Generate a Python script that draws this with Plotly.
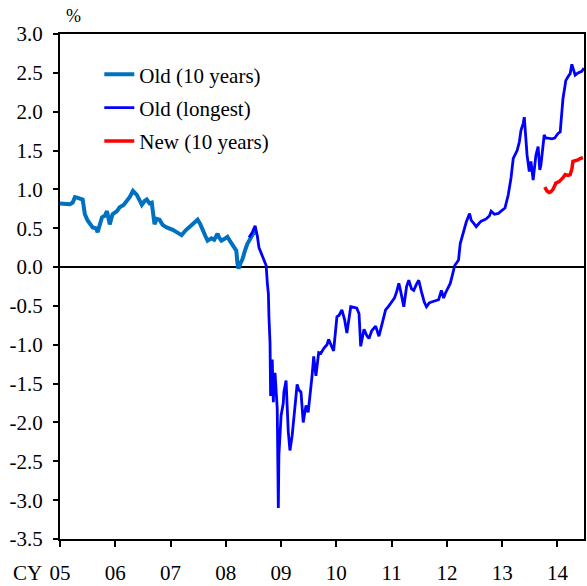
import plotly.graph_objects as go

# ---- data (decimal calendar years, percent) ----
old10_x = [2005.00, 2005.09, 2005.18, 2005.23, 2005.27, 2005.32, 2005.41, 2005.45, 2005.50, 2005.59,
           2005.65, 2005.68, 2005.76, 2005.81, 2005.85, 2005.90, 2005.95, 2006.03, 2006.08, 2006.15,
           2006.21, 2006.26, 2006.32, 2006.35, 2006.39, 2006.44, 2006.48, 2006.53, 2006.57, 2006.62,
           2006.66, 2006.71, 2006.75, 2006.80, 2006.86, 2006.93, 2006.98, 2007.04, 2007.11, 2007.20,
           2007.27, 2007.34, 2007.41, 2007.49, 2007.54, 2007.58, 2007.63, 2007.67, 2007.74, 2007.79,
           2007.85, 2007.88, 2007.92, 2007.97, 2008.03, 2008.08, 2008.12, 2008.17, 2008.19, 2008.21,
           2008.23, 2008.26, 2008.30, 2008.35, 2008.39, 2008.44, 2008.48, 2008.51, 2008.55]
old10_y = [0.82, 0.81, 0.81, 0.83, 0.90, 0.89, 0.87, 0.68, 0.60, 0.51,
           0.50, 0.45, 0.64, 0.66, 0.72, 0.55, 0.68, 0.72, 0.77, 0.80,
           0.85, 0.90, 0.98, 0.96, 0.93, 0.86, 0.80, 0.85, 0.87, 0.82,
           0.83, 0.55, 0.62, 0.61, 0.54, 0.51, 0.50, 0.48, 0.45, 0.41,
           0.47, 0.51, 0.55, 0.61, 0.55, 0.47, 0.40, 0.34, 0.37, 0.35,
           0.43, 0.38, 0.34, 0.36, 0.39, 0.33, 0.28, 0.24, 0.21, 0.05,
           -0.02, 0.04, 0.10, 0.22, 0.30, 0.36, 0.40, 0.45, 0.43]

oldlong_x = [2008.42, 2008.48, 2008.53, 2008.57, 2008.60, 2008.66, 2008.69, 2008.73, 2008.75, 2008.77,
             2008.78, 2008.80, 2008.81, 2008.82, 2008.84, 2008.86, 2008.87, 2008.89, 2008.91, 2008.93,
             2008.95, 2008.96, 2009.00, 2009.04, 2009.05, 2009.09, 2009.13, 2009.16, 2009.20, 2009.25,
             2009.29, 2009.32, 2009.36, 2009.40, 2009.45, 2009.49, 2009.54, 2009.56, 2009.59, 2009.63,
             2009.68, 2009.72, 2009.77, 2009.83, 2009.86, 2009.92, 2009.95, 2010.01, 2010.05, 2010.10,
             2010.15, 2010.19, 2010.23, 2010.26, 2010.32, 2010.37, 2010.41, 2010.44, 2010.50, 2010.55,
             2010.59, 2010.64, 2010.71, 2010.77, 2010.82, 2010.89, 2010.95, 2011.00, 2011.05, 2011.09,
             2011.13, 2011.16, 2011.22, 2011.27, 2011.31, 2011.36, 2011.40, 2011.45, 2011.49, 2011.54,
             2011.59, 2011.63, 2011.68, 2011.72, 2011.79, 2011.85, 2011.90, 2011.94, 2011.97, 2012.03,
             2012.06, 2012.10, 2012.14, 2012.17, 2012.21, 2012.24, 2012.30, 2012.35, 2012.41, 2012.44,
             2012.50, 2012.53, 2012.59, 2012.62, 2012.68, 2012.71, 2012.77, 2012.80, 2012.86, 2012.93,
             2012.98, 2013.05, 2013.11, 2013.16, 2013.20, 2013.23, 2013.27, 2013.31, 2013.34, 2013.38,
             2013.40, 2013.41, 2013.45, 2013.49, 2013.52, 2013.56, 2013.59, 2013.61, 2013.65, 2013.68,
             2013.70, 2013.74, 2013.76, 2013.79, 2013.83, 2013.90, 2013.95, 2014.01, 2014.05, 2014.06,
             2014.10, 2014.14, 2014.15, 2014.19, 2014.23, 2014.26, 2014.30, 2014.32, 2014.37, 2014.41,
             2014.44, 2014.48]
oldlong_y = [0.38, 0.45, 0.53, 0.40, 0.25, 0.15, 0.09, 0.02, -0.20, -0.34,
             -0.64, -0.98, -1.66, -1.50, -1.19, -1.74, -1.45, -1.36, -1.60, -1.82,
             -3.10, -2.42, -1.91, -1.75, -1.61, -1.46, -2.12, -2.36, -2.17, -1.74,
             -1.51, -1.58, -1.61, -2.00, -1.78, -1.87, -1.57, -1.40, -1.15, -1.40,
             -1.10, -1.11, -1.05, -1.00, -0.93, -1.04, -1.08, -0.64, -0.62, -0.55,
             -0.68, -0.85, -0.65, -0.51, -0.52, -0.53, -0.60, -1.02, -0.80, -0.88,
             -0.92, -0.82, -0.76, -0.89, -0.75, -0.55, -0.50, -0.45, -0.40, -0.32,
             -0.21, -0.30, -0.51, -0.25, -0.17, -0.28, -0.30, -0.22, -0.17, -0.32,
             -0.45, -0.51, -0.46, -0.45, -0.43, -0.42, -0.30, -0.40, -0.34, -0.25,
             -0.21, -0.10, 0.02, 0.05, 0.09, 0.30, 0.47, 0.58, 0.69, 0.60,
             0.55, 0.52, 0.57, 0.59, 0.61, 0.62, 0.66, 0.72, 0.68, 0.69,
             0.72, 0.76, 0.93, 1.15, 1.40, 1.44, 1.50, 1.61, 1.76, 1.85,
             1.93, 1.83, 1.44, 1.23, 1.36, 1.12, 1.30, 1.44, 1.55, 1.25,
             1.31, 1.55, 1.70, 1.66, 1.66, 1.65, 1.66, 1.72, 1.74, 1.83,
             2.17, 2.35, 2.40, 2.45, 2.49, 2.61, 2.52, 2.47, 2.50, 2.51,
             2.52, 2.56]

new10_x = [2013.77, 2013.81, 2013.85, 2013.88, 2013.92, 2013.95, 2013.97, 2014.03, 2014.06, 2014.10,
           2014.14, 2014.19, 2014.23, 2014.26, 2014.28, 2014.33, 2014.37, 2014.42, 2014.46]
new10_y = [1.03, 0.98, 0.96, 0.97, 1.00, 1.04, 1.08, 1.10, 1.12, 1.15,
           1.19, 1.18, 1.19, 1.26, 1.36, 1.37, 1.38, 1.40, 1.41]

x_tick_vals = [2005, 2006, 2007, 2008, 2009, 2010, 2011, 2012, 2013, 2014]
x_tick_text = ["05", "06", "07", "08", "09", "10", "11", "12", "13", "14"]
y_tick_vals = [3.0, 2.5, 2.0, 1.5, 1.0, 0.5, 0.0, -0.5, -1.0, -1.5, -2.0, -2.5, -3.0, -3.5]
y_tick_text = ["3.0", "2.5", "2.0", "1.5", "1.0", "0.5", "0.0", "-0.5", "-1.0", "-1.5",
               "-2.0", "-2.5", "-3.0", "-3.5"]

FONT = "serif"
TXT = dict(family=FONT, size=21, color="black")

fig = go.Figure()
fig.add_trace(go.Scatter(x=old10_x, y=old10_y, mode="lines", name="Old (10 years)",
                         legendgroup="a", line=dict(color="#0070C0", width=4)))
fig.add_trace(go.Scatter(x=oldlong_x, y=oldlong_y, mode="lines", name="Old (longest)",
                         legendgroup="b", line=dict(color="#0000FF", width=2.8)))
fig.add_trace(go.Scatter(x=new10_x, y=new10_y, mode="lines", name="New (10 years)",
                         legendgroup="c", line=dict(color="#FF0000", width=3.5)))

fig.update_layout(
    width=587, height=586,
    margin=dict(l=60, r=1, t=34, b=42),
    paper_bgcolor="white", plot_bgcolor="white",
    font=TXT,
    showlegend=True,
    legend=dict(x=0.075, y=0.96, xanchor="left", yanchor="top",
                bgcolor="rgba(0,0,0,0)", font=TXT,
                itemwidth=30, tracegroupgap=3),
    xaxis=dict(range=[2005, 2014.48], tickvals=x_tick_vals, ticktext=x_tick_text,
               tickfont=TXT,
               showgrid=False, zeroline=False, ticks="outside", ticklen=6, tickwidth=2,
               tickcolor="black", showline=True, linecolor="black", linewidth=2,
               mirror=True, ticklabelstandoff=8),
    yaxis=dict(range=[-3.5, 3.0], tickvals=y_tick_vals, ticktext=y_tick_text,
               tickfont=TXT,
               showgrid=False, zeroline=True, zerolinecolor="black", zerolinewidth=1.5,
               ticks="outside", ticklen=5, tickwidth=2, tickcolor="black",
               showline=True, linecolor="black", linewidth=2, mirror=True,
               ticklabelstandoff=6),
    annotations=[
        dict(text="%", xref="paper", yref="paper", x=0.0, y=1.0, xshift=4, yshift=6,
             xanchor="left", yanchor="bottom", showarrow=False,
             font=dict(family=FONT, size=18, color="black")),
        dict(text="CY", xref="paper", yref="paper", x=0.0, y=0.0, xshift=-16, yshift=-20,
             xanchor="right", yanchor="top", showarrow=False, font=TXT),
    ],
)

fig.write_html("out.html", config={"displayModeBar": False},
               post_script="document.body.style.margin='0';")
